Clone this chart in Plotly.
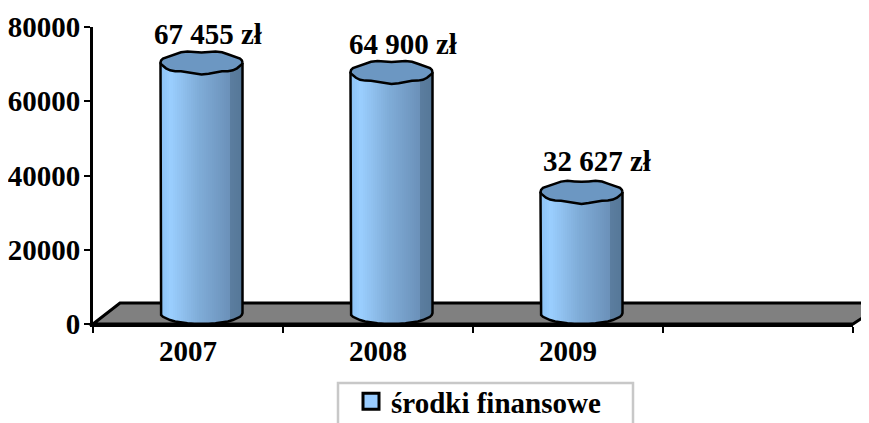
import math
import plotly.graph_objects as go

# Data
years = ["2007", "2008", "2009", " "]
values = [67455, 64900, 32627]
value_labels = ["67 455 zł", "64 900 zł", "32 627 zł"]
series_name = "środki finansowe"
y_ticks = [0, 20000, 40000, 60000, 80000]

# Pixel frame (page coordinates; the page body adds an 8 px offset)
PAGE = 8
W, H = 869 - PAGE, 445
L, R, T, B = 93, 853, 27, 324
YMAX = 80000
px_y = (B - T) / YMAX
px_x = (R - L) / len(years)

FONT = "Liberation Serif"
HALF_W = 41 / px_x
SHIFT = 13.5 / px_x
ELL = 11 / px_y
STRIPS = 40
TOP_FILL = "#6c97c2"


def mix(a, b, t):
    return tuple(a[k] + (b[k] - a[k]) * t for k in range(3))


STOPS = [(0.0, (140, 194, 246)), (0.12, (155, 207, 255)), (0.5, (126, 170, 213)),
         (0.84, (108, 146, 186)), (0.85, (92, 126, 160)), (1.0, (86, 120, 152))]


def shade(u):
    for (a, ca), (b, cb) in zip(STOPS, STOPS[1:]):
        if u <= b:
            c = mix(ca, cb, (u - a) / (b - a))
            return "rgb(%d,%d,%d)" % c
    return "rgb(86,120,152)"


def paper_x(p):
    return (p - L) / (R - L)


def paper_y(p):
    return (B - p) / (B - T)


fig = go.Figure()

n = len(values)
for s in range(STRIPS):
    u0, u1 = s / STRIPS, (s + 1) / STRIPS
    um = (u0 + u1) / 2
    foot = ELL * (1 - math.sqrt(max(0, 1 - (2 * um - 1) ** 2)))
    fig.add_trace(go.Bar(
        x=list(range(n)),
        y=[v + ELL - foot for v in values],
        base=[foot] * n,
        offset=SHIFT - HALF_W + 2 * HALF_W * u0,
        width=2 * HALF_W * (u1 - u0) + 0.002,
        marker=dict(color=shade(um), line_width=0),
        showlegend=False, hoverinfo="skip",
    ))

SEG = 18
WOB = 1.0 / px_y
for i, v in enumerate(values):
    cx = i + SHIFT
    side_x = [cx - HALF_W] + [cx - HALF_W * math.cos(math.pi * k / SEG) for k in range(SEG + 1)] + [cx + HALF_W]
    side_y = [v + ELL] + [ELL - ELL * math.sin(math.pi * k / SEG) for k in range(SEG + 1)] + [v + ELL]
    fig.add_trace(go.Scatter(x=side_x, y=side_y, mode="lines", line=dict(color="black", width=2.5),
                             showlegend=False, hoverinfo="skip"))
    top_x = [cx + HALF_W * math.cos(2 * math.pi * k / (2 * SEG)) for k in range(2 * SEG + 1)]
    top_y = [v + ELL + (ELL + WOB * math.sin(7 * 2 * math.pi * k / (2 * SEG))) * math.sin(2 * math.pi * k / (2 * SEG))
             for k in range(2 * SEG + 1)]
    fig.add_trace(go.Scatter(x=top_x, y=top_y, mode="lines", fill="toself", fillcolor=TOP_FILL,
                             line=dict(color="black", width=2.5), showlegend=False, hoverinfo="skip"))

fig.add_trace(go.Scatter(x=[None], y=[None], mode="markers", name="<b>%s</b>" % series_name,
                         marker=dict(symbol="square", size=16, color="#99ccff",
                                     line=dict(color="black", width=3))))

label_shift = [20, 25, 29]
label_lift = [29, 28, 31]
annotations = [dict(x=i, y=v + ELL, text="<b>%s</b>" % value_labels[i], showarrow=False,
                    xanchor="center", yanchor="middle",
                    xshift=label_shift[i], yshift=label_lift[i],
                    font=dict(family=FONT, size=29, color="black"))
               for i, v in enumerate(values)]

floor = "M %f,%f L %f,%f L %f,%f L %f,%f Z" % (
    paper_x(L), paper_y(B), paper_x(120), paper_y(303),
    paper_x(885), paper_y(303), paper_x(R), paper_y(B))

fig.update_layout(
    width=W, height=H,
    autosize=False,
    margin=dict(l=L - PAGE, r=W - (R - PAGE), t=T - PAGE, b=H - (B - PAGE), pad=0),
    paper_bgcolor="white", plot_bgcolor="white",
    barmode="overlay", bargap=0,
    font=dict(family=FONT, color="black"),
    showlegend=True,
    legend=dict(x=paper_x(351), y=paper_y(376), xanchor="left", yanchor="top", bgcolor="rgba(0,0,0,0)",
                borderwidth=0, itemsizing="trace", font=dict(family=FONT, size=29, color="black"),
                itemwidth=30, traceorder="normal"),
    xaxis=dict(range=[-0.5, len(years) - 0.5], tickmode="array", tickvals=list(range(len(years))), automargin=False,
               ticktext=["<b>%s</b>" % y for y in years], ticks="", ticklen=0,
               ticklabelstandoff=-1, showgrid=False, zeroline=False,
               showline=True, linecolor="black", linewidth=3,
               tickfont=dict(family=FONT, size=29, color="black"),
               minor=dict(tickmode="array", tickvals=[k - 0.5 for k in range(len(years) + 1)],
                          ticks="outside", ticklen=6, tickwidth=2, tickcolor="black", showgrid=False)),
    yaxis=dict(range=[0, YMAX], tickmode="array", tickvals=y_ticks, ticktext=["<b>%d</b>" % t for t in y_ticks],
               automargin=False,
               ticks="outside", ticklen=6, tickwidth=2, tickcolor="black",
               ticklabelstandoff=-2, showgrid=False, zeroline=False,
               showline=True, linecolor="black", linewidth=3,
               tickfont=dict(family=FONT, size=29, color="black")),
    shapes=[
        dict(type="path", path=floor, xref="paper", yref="paper", layer="below",
             fillcolor="#808080", line=dict(color="black", width=3)),
        dict(type="rect", xref="paper", yref="paper", x0=paper_x(338), x1=paper_x(633),
             y0=paper_y(445), y1=paper_y(383), line=dict(color="#c8c8c8", width=2.5),
             fillcolor="rgba(0,0,0,0)", layer="below"),
    ],
    annotations=annotations,
)

fig.write_html("out.html")
